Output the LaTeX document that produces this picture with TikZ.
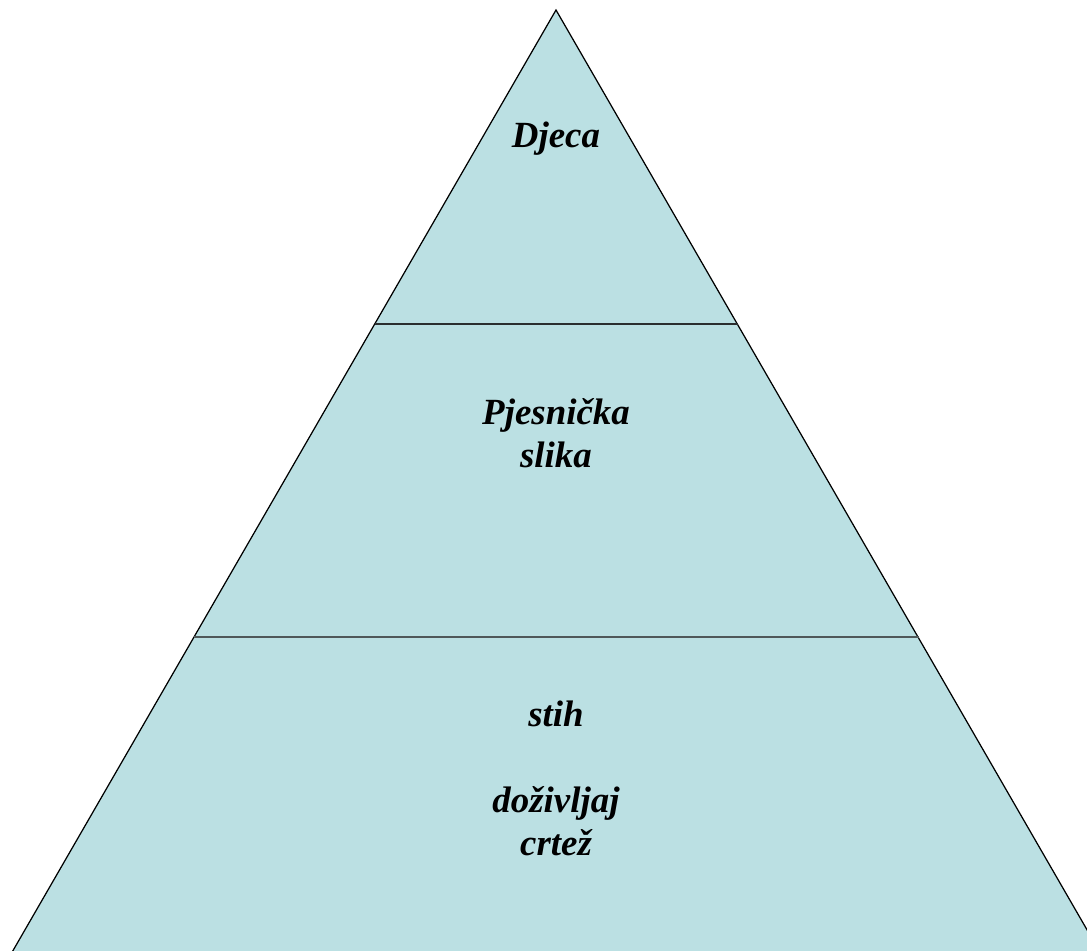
\documentclass[tikz,border=0pt]{standalone}
\usepackage{fontspec}
\setmainfont{Liberation Serif}
\usetikzlibrary{positioning, calc}
\definecolor{pyrfill}{HTML}{BBE0E3}
\definecolor{divdark}{HTML}{2A2E2F}
\definecolor{divgray}{HTML}{4F5859}
\tikzset{
  every picture/.style={line width=0.7pt},
  lvl/.style={font=\fontsize{21}{24.4}\selectfont\bfseries\itshape, align=center, inner sep=0pt},
  divider/.style={line width=1.5pt},
}

\begin{document}
\begin{tikzpicture}[x=0.02cm, y=-0.02cm]
    \useasboundingbox (0,0) rectangle (1087,950);
    \clip (0,0) rectangle (1087,950);

    \coordinate (top) at (556,10);
    \coordinate (bl) at (-4,980);
    \coordinate (br) at (1116,980);

    \fill[pyrfill] (top) -- (bl) -- (br) -- cycle;
    \draw (bl) -- (top) -- (br);

    \coordinate (d1l) at (374.5,324);
    \coordinate (d1r) at (737.5,324);
    \coordinate (d2l) at (193.5,637);
    \coordinate (d2r) at (918.5,637);
    \draw[divider, divdark] (d1l) -- (d1r);
    \draw[divider, divgray] (d2l) -- (d2r);

    % base anchor sits on the last line
    \node [lvl, anchor=base] (t1) at (556,147) {Djeca};
    \node [lvl, anchor=base] (t2) at (556,467) {Pjesnička\\slika};
    \node [lvl, anchor=base] (t3) at (556,855) {stih\\[24.4pt]doživljaj\\crtež};
\end{tikzpicture}
\end{document}
